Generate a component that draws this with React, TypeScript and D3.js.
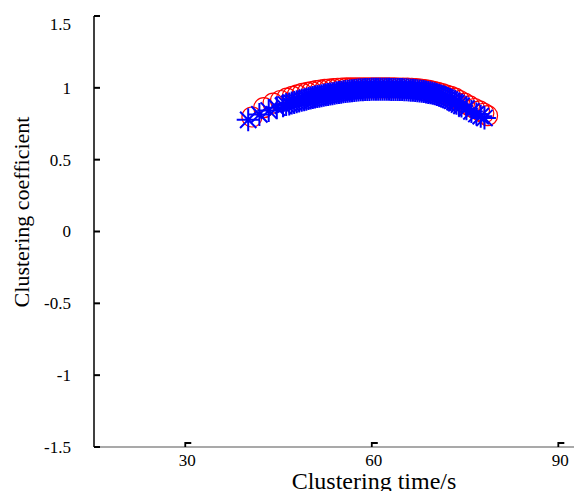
import React from 'react';
import * as d3 from 'd3';

// red circles (first method)
const circleTime = [40.4, 42.3, 43.8, 45.0, 46.0, 46.9, 47.7, 48.5, 49.3, 50.0,
  50.7, 51.4, 52.1, 52.8, 53.5, 54.2, 54.9, 55.6, 56.3, 57.0,
  57.7, 58.4, 59.1, 59.8, 60.5, 61.2, 61.9, 62.6, 63.3, 64.0,
  64.7, 65.4, 66.1, 66.8, 67.5, 68.2, 68.9, 69.6, 70.3, 71.0,
  71.7, 72.4, 73.1, 73.8, 74.6, 75.4, 76.2, 77.0, 77.7, 78.3];
const circleCoef = [0.797, 0.862, 0.893, 0.912, 0.928, 0.940, 0.951, 0.961, 0.968, 0.974,
  0.980, 0.985, 0.989, 0.992, 0.995, 0.997, 0.999, 1.000, 1.000, 1.000,
  1.000, 1.000, 1.000, 1.000, 1.000, 1.000, 1.000, 1.000, 1.000, 0.999,
  0.999, 0.998, 0.997, 0.995, 0.992, 0.988, 0.983, 0.976, 0.968, 0.960,
  0.950, 0.940, 0.928, 0.912, 0.893, 0.874, 0.856, 0.840, 0.823, 0.806];

// blue stars (second method), sampled more densely
const starTime = [39.8, 41.6, 43.1, 44.4, 45.4, 45.9, 46.4, 46.8, 47.2, 47.6,
  48.0, 48.4, 48.8, 49.15, 49.5, 49.85, 50.2, 50.55, 50.9, 51.25,
  51.6, 51.95, 52.3, 52.65, 53.0, 53.35, 53.7, 54.05, 54.4, 54.75,
  55.1, 55.45, 55.8, 56.15, 56.5, 56.85, 57.2, 57.55, 57.9, 58.25,
  58.6, 58.95, 59.3, 59.65, 60.0, 60.35, 60.7, 61.05, 61.4, 61.75,
  62.1, 62.45, 62.8, 63.15, 63.5, 63.85, 64.2, 64.55, 64.9, 65.25,
  65.6, 65.95, 66.3, 66.65, 67.0, 67.35, 67.7, 68.05, 68.4, 68.75,
  69.1, 69.45, 69.8, 70.15, 70.5, 70.85, 71.2, 71.55, 71.9, 72.25,
  72.6, 73.0, 73.3, 73.7, 74.1, 74.9, 75.7, 76.5, 77.2, 77.8];
const starCoef = [0.777, 0.815, 0.842, 0.862, 0.876, 0.884, 0.888, 0.894, 0.898, 0.903,
  0.908, 0.913, 0.917, 0.921, 0.925, 0.929, 0.932, 0.936, 0.939, 0.942,
  0.945, 0.948, 0.951, 0.954, 0.957, 0.959, 0.962, 0.965, 0.967, 0.970,
  0.972, 0.974, 0.976, 0.978, 0.980, 0.981, 0.983, 0.985, 0.986, 0.987,
  0.988, 0.989, 0.989, 0.990, 0.990, 0.990, 0.990, 0.990, 0.990, 0.990,
  0.990, 0.990, 0.989, 0.989, 0.989, 0.989, 0.988, 0.988, 0.987, 0.986,
  0.985, 0.984, 0.983, 0.982, 0.980, 0.978, 0.976, 0.974, 0.971, 0.968,
  0.965, 0.962, 0.958, 0.954, 0.949, 0.944, 0.938, 0.932, 0.925, 0.918,
  0.910, 0.901, 0.893, 0.884, 0.874, 0.855, 0.836, 0.818, 0.803, 0.790];

const xTicks = [30, 60, 90];
const yTicks = [-1.5, -1, -0.5, 0, 0.5, 1, 1.5];
const yTickLabels = ['-1.5', '-1', '-0.5', '0', '0.5', '1', '1.5'];

const font = '"Liberation Serif", "Times New Roman", serif';

function starPath(cx: number, cy: number, r: number) {
  const k = r * 0.707;
  return `M${cx - r},${cy}H${cx + r}M${cx},${cy - r}V${cy + r}` +
    `M${cx - k},${cy - k}L${cx + k},${cy + k}M${cx - k},${cy + k}L${cx + k},${cy - k}`;
}

export default function App() {
  const width = 574;
  const height = 491;

  const x = d3.scaleLinear().domain([15, 92.2]).range([94, 574]);
  const y = d3.scaleLinear().domain([-1.5, 1.5]).range([447, 16]);

  return (
    <svg width={width} height={height}
      style={{position: 'absolute', left: 0, top: 0, background: '#fff'}}>
      {/* axes */}
      <line x1={94} x2={574} y1={y(-1.5)} y2={y(-1.5)} stroke="#555" strokeWidth={1.2} />
      <line x1={94} x2={94} y1={y(1.5)} y2={y(-1.5)} stroke="#000" strokeWidth={1.5} />

      {yTicks.map((t, i) => (
        <g key={'y' + t}>
          <line x1={94} x2={100} y1={y(t)} y2={y(t)} stroke="#000" strokeWidth={2} />
          <text x={71} y={y(t) + (t === 1.5 ? 8 : 0)} dy="0.35em" textAnchor="end"
            fontFamily={font} fontSize={17}>{yTickLabels[i]}</text>
        </g>
      ))}

      {xTicks.map(t => (
        <g key={'x' + t}>
          <path d={`M${x(t) - 2},${y(-1.5)}V${y(-1.5) - 4}H${x(t) + 4}`}
            fill="none" stroke="#000" strokeWidth={1.8} />
          <text x={x(t)} y={466} textAnchor="middle" fontFamily={font} fontSize={17}>{t}</text>
        </g>
      ))}

      {/* data */}
      {circleTime.map((t, i) => (
        <circle key={'c' + i} cx={x(t)} cy={y(circleCoef[i])} r={10}
          fill="none" stroke="#ff0000" strokeWidth={1.2} />
      ))}
      {starTime.map((t, i) => (
        <path key={'s' + i} d={starPath(x(t), y(starCoef[i]), 11.5)}
          fill="none" stroke="#0000ff" strokeWidth={2} />
      ))}

      {/* titles */}
      <text x={374} y={489} textAnchor="middle" fontFamily={font} fontSize={24}>Clustering time/s</text>
      <text transform="translate(29,212) rotate(-90)" textAnchor="middle"
        fontFamily={font} fontSize={22}>Clustering coefficient</text>
    </svg>
  );
}
